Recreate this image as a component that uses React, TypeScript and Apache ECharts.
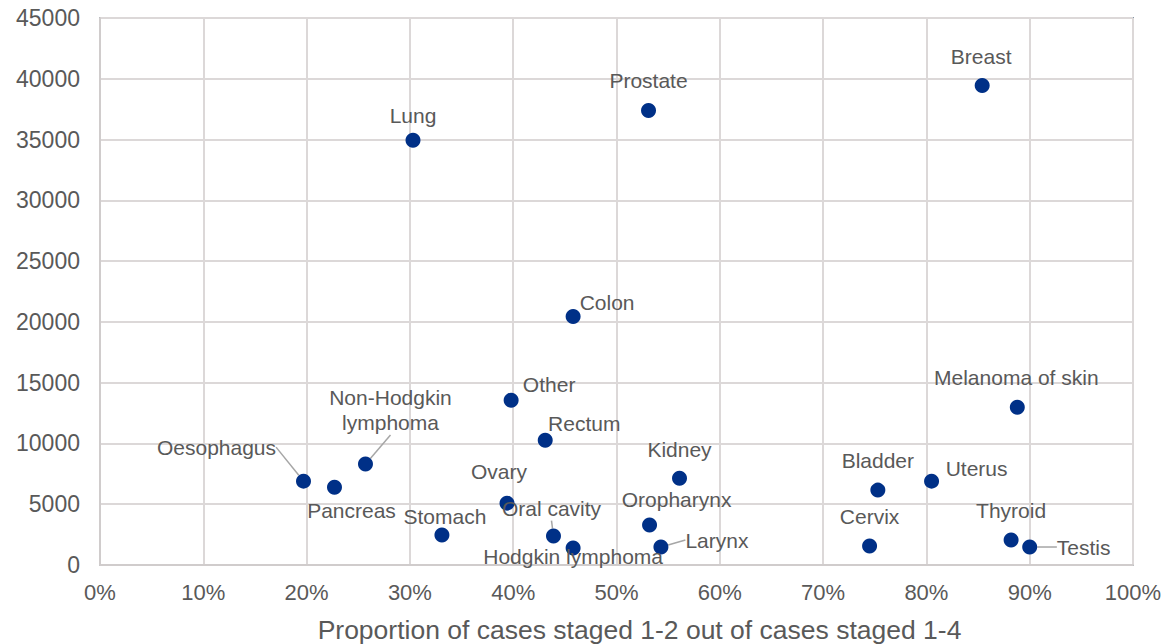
import React, { useEffect, useRef } from "react";
import * as echarts from "echarts";

const cancers = [
  "Lung", "Prostate", "Breast", "Colon", "Other", "Rectum", "Melanoma of skin",
  "Oesophagus", "Non-Hodgkin\nlymphoma", "Pancreas", "Stomach", "Ovary", "Oral cavity",
  "Hodgkin lymphoma", "Kidney", "Oropharynx", "Larynx", "Bladder", "Uterus", "Cervix",
  "Thyroid", "Testis",
];
const proportionEarly = [
  0.303, 0.531, 0.854, 0.458, 0.398, 0.431, 0.888,
  0.197, 0.257, 0.227, 0.331, 0.394, 0.439,
  0.458, 0.561, 0.532, 0.543, 0.753, 0.805, 0.745,
  0.882, 0.900,
];
const cases = [
  34950, 37400, 39450, 20450, 13550, 10270, 12980,
  6900, 8300, 6400, 2460, 5090, 2380,
  1400, 7140, 3290, 1480, 6160, 6900, 1560,
  2050, 1480,
];
const xTicks = { min: 0, max: 1, interval: 0.1 };
const yTicks = { min: 0, max: 45000, interval: 5000 };
const xTitle = "Proportion of cases staged 1-2 out of cases staged 1-4";

// label offsets relative to the marker centre (presentation only)
const labelOffsets: [number, number][] = [
  [0, -25], [0, -30], [-1, -29], [34, -14], [38, -16], [39, -17], [-1, -30],
  [-87, -34], [25, -54], [17, 23], [3, -19], [-8, -32], [-2, -28],
  [0, 9], [0, -29], [27, -26], [56, -7], [0, -30], [45, -13], [0, -30],
  [0, -30], [54, 0],
];
const withLeader = new Set(["Oesophagus", "Non-Hodgkin\nlymphoma", "Oral cavity", "Larynx", "Testis"]);

const FONT = "'Liberation Sans', Arial, sans-serif";
const TEXT = "#595959";

export default function App() {
  const ref = useRef<HTMLDivElement>(null);
  useEffect(() => {
    if (!ref.current) return;
    const chart = echarts.init(ref.current, undefined, { renderer: "svg" });
    const data = cancers.map((name, i) => ({
      name,
      value: [proportionEarly[i], cases[i]],
      labelLine: { show: withLeader.has(name) },
    }));
    chart.setOption({
      animation: false,
      textStyle: { fontFamily: FONT },
      grid: {
        left: 100, right: 35, top: 18, bottom: 79,
        outerBoundsMode: "none",
        containLabel: false,
        show: true, borderColor: "#8497a8", borderWidth: 2, backgroundColor: "transparent",
      },
      xAxis: {
        type: "value",
        ...xTicks,
        name: xTitle,
        nameLocation: "middle",
        nameGap: 51,
        nameTextStyle: { fontSize: 26.5, color: TEXT, fontFamily: FONT, padding: [0, 0, 0, 46] },
        axisLine: { show: true, lineStyle: { color: "#d0cccc", width: 2 } },
        axisTick: { show: false },
        splitLine: { show: true, lineStyle: { color: "#dcd8d8", width: 2 } },
        axisLabel: {
          fontSize: 22, color: TEXT, fontFamily: FONT, margin: 16,
          formatter: (v: number) => `${Math.round(v * 100)}%`,
        },
      },
      yAxis: {
        type: "value",
        ...yTicks,
        axisLine: { show: true, lineStyle: { color: "#d0cccc", width: 2 } },
        axisTick: { show: false },
        splitLine: { show: true, lineStyle: { color: "#dcd8d8", width: 2 } },
        axisLabel: {
          fontSize: 23, color: TEXT, fontFamily: FONT, margin: 20,
          formatter: (v: number) => String(v),
        },
      },
      series: [
        {
          type: "scatter",
          symbol: "circle",
          symbolSize: 15,
          itemStyle: { color: "#003087", opacity: 1 },
          data,
          label: {
            show: true,
            position: "inside",
            formatter: (p: any) => p.name,
            fontSize: 21,
            lineHeight: 25,
            color: TEXT,
            fontFamily: FONT,
            align: "center",
            verticalAlign: "middle",
          },
          labelLine: { show: false, lineStyle: { color: "#a6a6a6", width: 1.5 } },
          labelLayout: (p: any) => {
            const o = labelOffsets[p.dataIndex];
            return { dx: o[0], dy: o[1] };
          },
          emphasis: { disabled: true },
        },
      ],
    });
    return () => chart.dispose();
  }, []);
  return <div ref={ref} style={{ width: 1168, height: 644, position: "absolute", left: 0, top: 0 }} />;
}
